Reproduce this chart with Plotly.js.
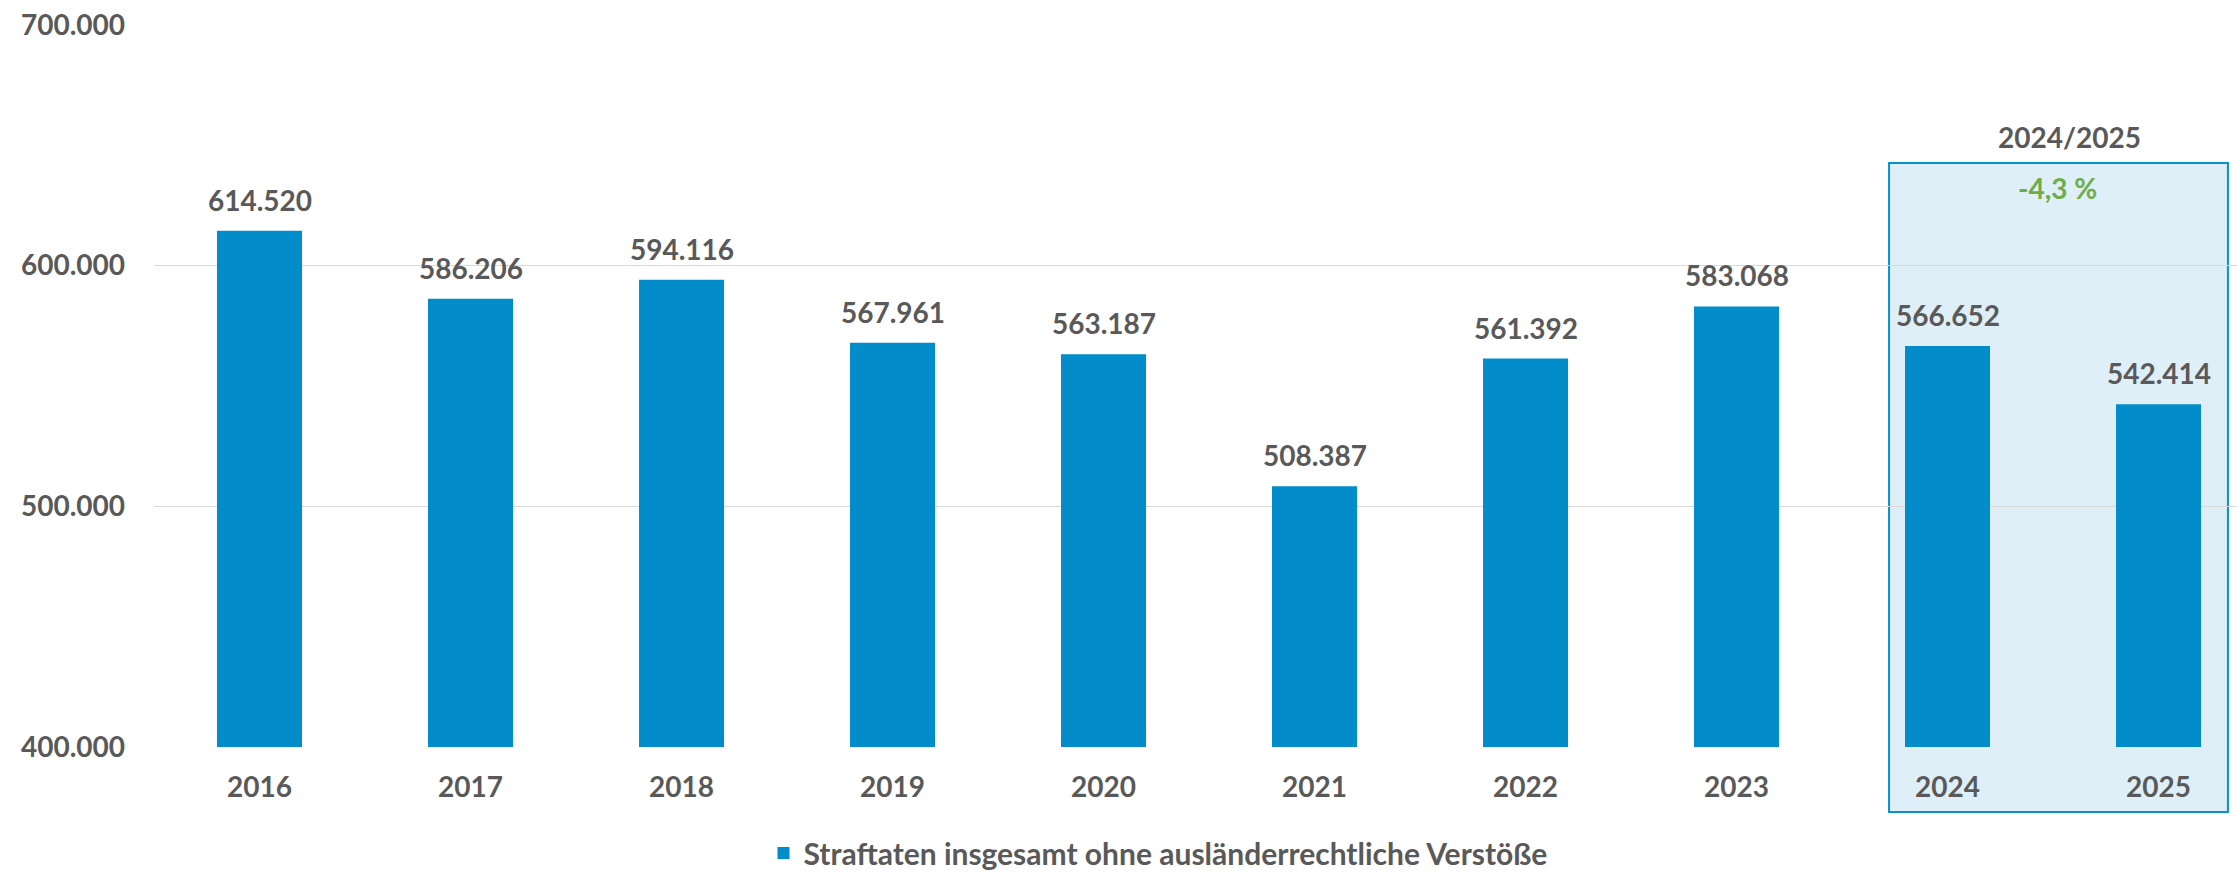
<!DOCTYPE html>
<html>
<head>
<meta charset="utf-8">
<script src="https://cdn.plot.ly/plotly-3.0.1.min.js"></script>
<style>html,body{margin:0;padding:0;background:#fff;}#chart{width:2237px;height:879px;}</style>
</head>
<body>
<div id="chart"></div>
<script>
const years = ["2016","2017","2018","2019","2020","2021","2022","2023","2024","2025"];
const values = [614520, 586206, 594116, 567961, 563187, 508387, 561392, 583068, 566652, 542414];
const seriesName = "Straftaten insgesamt ohne ausländerrechtliche Verstöße";
const compareLabel = "2024/2025";
const yTicks = [400000, 500000, 600000, 700000];

const fmt = v => String(v).replace(/\B(?=(\d{3})+(?!\d))/g, ".");
const n = values.length;
const change = (values[n-1] / values[n-2] - 1) * 100;
const changeText = change.toFixed(1).replace('.', ',') + " %";

const gray = "#595959";
const font = {family: "Lato, 'Open Sans', sans-serif", size: 28, color: gray, weight: 700};

const W = 2237, H = 879;
const plotTop = 25, plotBottom = 747, plotH = plotBottom - plotTop;
const py = p => (plotBottom - p) / plotH;

const trace = {
  type: "bar",
  x: years,
  y: values,
  name: seriesName,
  marker: {color: "#028DCA", line: {width: 0}},
  width: 0.403,
  hoverinfo: "x+y"
};

const annotations = values.map((v, i) => ({
  x: i, y: v, xref: "x", yref: "y",
  text: fmt(v), showarrow: false,
  xanchor: "center", yanchor: "bottom", yshift: 12,
  font: font
}));
annotations.push({
  x: 8.58, y: py(137), xref: "x", yref: "paper",
  xanchor: "center", yanchor: "middle",
  text: compareLabel, showarrow: false, font: font
});
annotations.push({
  x: 8.52, y: py(188), xref: "x", yref: "paper",
  xanchor: "center", yanchor: "middle",
  text: changeText, showarrow: false, font: Object.assign({}, font, {color: "#70AD47"})
});

const layout = {
  width: W, height: H,
  margin: {l: 154, r: 0, t: plotTop, b: H - plotBottom, pad: 0},
  paper_bgcolor: "#ffffff",
  plot_bgcolor: "rgba(0,0,0,0)",
  separators: ",.",
  showlegend: true,
  font: font,
  xaxis: {
    type: "category",
    range: [-0.5, 9.372],
    showgrid: false, zeroline: false, showline: false,
    ticks: "", tickfont: font,
    ticklabelstandoff: 21,
    fixedrange: true
  },
  yaxis: {
    range: [400000, 700000],
    tickvals: yTicks,
    tickformat: ",.0f",
    showgrid: true, gridcolor: "#D9D9D9", gridwidth: 1.5,
    zeroline: false, showline: false,
    ticks: "", tickfont: font,
    ticklabelstandoff: 28,
    fixedrange: true
  },
  legend: {
    orientation: "h",
    xref: "container", yref: "container",
    x: 1158 / W, xanchor: "center",
    y: -0.006, yanchor: "bottom",
    font: Object.assign({}, font, {size: 30}),
    itemwidth: 30,
    bgcolor: "rgba(0,0,0,0)"
  },
  shapes: [{
    type: "rect", layer: "below",
    xref: "x", yref: "paper",
    x0: 7.723, x1: 9.329,
    y0: py(812), y1: py(163),
    fillcolor: "#DFEFF8",
    line: {color: "#0A8FCF", width: 2}
  }],
  annotations: annotations,
  bargap: 0.6
};

Plotly.newPlot("chart", [trace], layout, {displayModeBar: false, staticPlot: true});
</script>
</body>
</html>
